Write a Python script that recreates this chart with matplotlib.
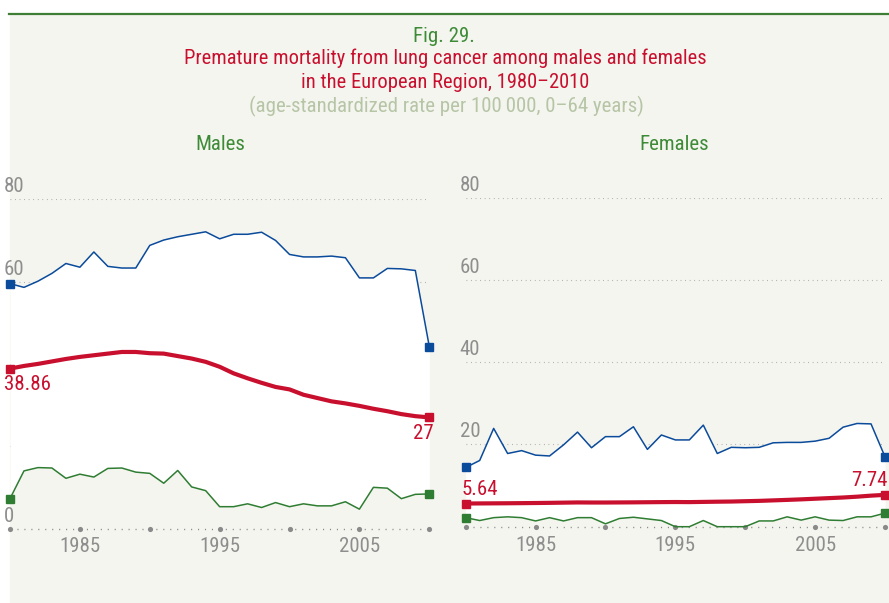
import numpy as np
import matplotlib
matplotlib.use('Agg')
import matplotlib.pyplot as plt
from matplotlib import font_manager
from matplotlib.patches import Rectangle
from matplotlib.lines import Line2D
from matplotlib.transforms import offset_copy

# Data
years = list(range(1980, 2011))

male_high = [59.5, 58.6, 60.1, 62.0, 64.4, 63.5, 67.2, 63.7, 63.3, 63.3,
             68.8, 70.1, 70.9, 71.5, 72.1, 70.4, 71.5, 71.5, 72.0, 70.0,
             66.6, 66.0, 66.0, 66.2, 65.8, 60.9, 60.9, 63.2, 63.1, 62.7, 44.2]
male_avg = [38.86, 39.5, 40.0, 40.6, 41.2, 41.7, 42.1, 42.5, 42.9, 42.9,
            42.6, 42.5, 41.9, 41.3, 40.5, 39.3, 37.7, 36.5, 35.4, 34.4,
            33.8, 32.5, 31.7, 30.9, 30.4, 29.8, 29.1, 28.5, 27.8, 27.3, 27.0]
male_low = [7.25, 14.0, 14.8, 14.7, 12.2, 13.2, 12.5, 14.6, 14.7, 13.7,
            13.4, 11.0, 14.1, 10.1, 9.2, 5.3, 5.3, 6.0, 5.1, 6.3,
            5.3, 6.0, 5.5, 5.5, 6.5, 4.7, 10.0, 9.8, 7.25, 8.3, 8.4]

female_high = [14.4, 16.1, 23.9, 17.8, 18.5, 17.4, 17.2, 19.9, 23.0, 19.2,
               21.9, 21.9, 24.3, 18.8, 22.3, 21.1, 21.1, 24.7, 17.8, 19.3,
               19.2, 19.3, 20.4, 20.5, 20.5, 20.8, 21.5, 24.2, 25.1, 25.0, 17.0]
female_avg = [5.64, 5.66, 5.68, 5.70, 5.73, 5.76, 5.80, 5.85, 5.90, 5.88,
              5.88, 5.90, 5.92, 5.95, 5.98, 6.00, 5.98, 6.03, 6.08, 6.12,
              6.20, 6.28, 6.40, 6.52, 6.65, 6.80, 6.95, 7.10, 7.30, 7.55, 7.74]
female_low = [2.2, 1.5, 2.2, 2.4, 2.2, 1.4, 2.2, 1.4, 2.2, 2.2,
              0.7, 2.0, 2.3, 1.9, 1.5, 0.0, 0.0, 1.5, 0.0, 0.0,
              0.0, 1.4, 1.4, 2.4, 1.6, 2.4, 1.6, 1.5, 2.4, 2.4, 3.3]

male_ticks = [0, 60, 80]
female_ticks = [20, 40, 60, 80]
grid_values = [20, 40, 60, 80]
year_ticks = [1985, 1995, 2005]
dot_years = [1980, 1985, 1990, 1995, 2000, 2005, 2010]

BLUE = '#0b4b9b'
RED = '#c8102e'
GREEN = '#2f7d32'
GRAY = '#8e8e8e'
BG = '#f5f5f0'


def pick_font():
    for name in ['Roboto Condensed', 'Liberation Sans Narrow', 'Open Sans Condensed']:
        try:
            font_manager.findfont(name, fallback_to_default=False)
            return name
        except Exception:
            pass
    return 'Liberation Sans'


FONT = pick_font()
plt.rcParams['font.family'] = [FONT, 'DejaVu Sans']

W, H = 889, 603
fig = plt.figure(figsize=(W / 100, H / 100), dpi=100, facecolor='white')

# gray panel + green rule on top
fig.patches.append(Rectangle((10 / W, 0), 1 - 10 / W, 1 - 15 / H,
                             transform=fig.transFigure, color=BG, zorder=-5))
fig.add_artist(Line2D([9 / W, 1], [1 - 13.5 / H] * 2, color='#3f7f35', lw=1.6))

# titles
fig.text(444 / W, 1 - 37 / H, 'Fig. 29.', color='#3d8b37', fontsize=15,
         ha='center', va='center')
fig.text(445 / W, 1 - 58 / H, 'Premature mortality from lung cancer among males and females',
         color='#c8102e', fontsize=14.8, ha='center', va='center')
fig.text(445 / W, 1 - 82 / H, 'in the European Region, 1980\u20132010',
         color='#c8102e', fontsize=14.8, ha='center', va='center')
fig.text(446 / W, 1 - 106 / H, '(age-standardized rate per 100\u2009000, 0\u201364 years)',
         color='#b6c5a6', fontsize=15, ha='center', va='center')
fig.text(220 / W, 1 - 145 / H, 'Males', color='#3d8b37', fontsize=15,
         ha='center', va='center')
fig.text(674 / W, 1 - 144 / H, 'Females', color='#3d8b37', fontsize=15,
         ha='center', va='center')


def panel(x0, x1, ytop, ybot):
    ax = fig.add_axes([x0 / W, 1 - ybot / H, (x1 - x0) / W, (ybot - ytop) / H])
    ax.set_xlim(1980, 2010)
    ax.set_ylim(0, 80)
    ax.axis('off')
    return ax


def shift(ax, dx, dy):
    # offset in pixels
    return offset_copy(ax.transData, fig=fig, x=dx * 0.72, y=dy * 0.72, units='points')


def draw(ax, high, avg, low, ticks, start_lab, end_lab, start_pos, end_pos):
    for g in grid_values:
        ax.plot([1980, 2010], [g, g], color='#a0a0a0', lw=0.8,
                ls=(0, (0.7, 3.4)), zorder=1)
    for t in ticks:
        ax.text(1980, t, str(t), transform=shift(ax, -6, 3), ha='left',
                va='bottom', color=GRAY, fontsize=15, zorder=1)
    ax.fill_between(years, low, high, color='white', lw=0, zorder=2)
    ax.plot([1980, 2010], [0, 0], color='#8a8a8a', lw=1.0,
            ls=(0, (0.8, 4.2)), zorder=2.5, clip_on=False)
    ax.scatter(dot_years, [0] * len(dot_years), s=14, color='#8a8a8a',
               zorder=2.6, clip_on=False, lw=0)
    for y in year_ticks:
        ax.text(y, 0, str(y), transform=shift(ax, 0, -9), ha='center',
                va='top', color=GRAY, fontsize=15)
    ax.plot(years, high, color=BLUE, lw=1.1, zorder=3, clip_on=False)
    ax.plot(years, low, color=GREEN, lw=1.1, zorder=3, clip_on=False)
    ax.plot(years, avg, color=RED, lw=3.0, zorder=4, clip_on=False,
            solid_capstyle='butt')
    for s, c in [(high, BLUE), (low, GREEN), (avg, RED)]:
        ax.plot([years[0], years[-1]], [s[0], s[-1]], ls='none', marker='s',
                ms=6, color=c, zorder=5, clip_on=False)
    ax.text(1980, avg[0], start_lab, transform=shift(ax, start_pos[0], start_pos[1]),
            ha='left', va='center', color=RED, fontsize=15, zorder=6)
    ax.text(2010, avg[-1], end_lab, transform=shift(ax, end_pos[0], end_pos[1]),
            ha='right', va='center', color=RED, fontsize=15, zorder=6)


ax_m = panel(10, 429.3, 199.3, 528.5)
draw(ax_m, male_high, male_avg, male_low, male_ticks, '38.86', '27',
     (-6, -16), (4, -16))

ax_f = panel(465.7, 885, 197.7, 526.7)
draw(ax_f, female_high, female_avg, female_low, female_ticks, '5.64', '7.74',
     (-4, 14), (3, 14))

fig.savefig('out.png', dpi=100, facecolor=fig.get_facecolor())
